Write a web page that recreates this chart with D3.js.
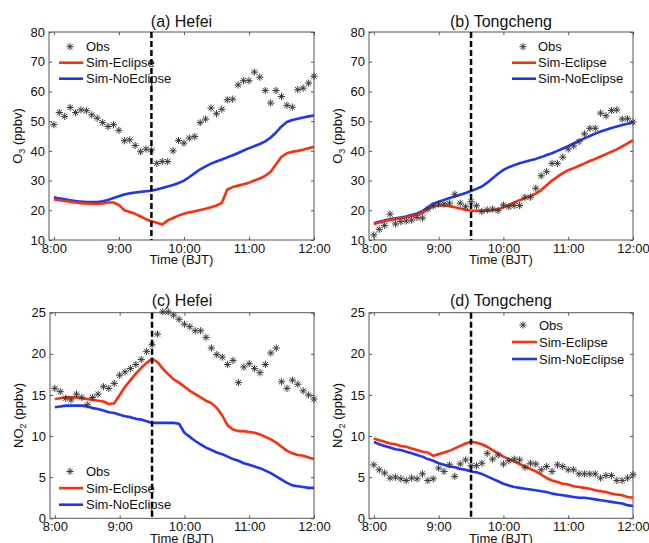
<!DOCTYPE html>
<html><head><meta charset="utf-8">
<script src="https://cdn.jsdelivr.net/npm/d3@7"></script>
<style>
body{margin:0;background:#fff;}
text{font-family:Arial,"Liberation Sans",sans-serif;fill:#111;}
</style></head>
<body><svg id="c" width="649" height="543"></svg>
<script>
// minutes after 8:00
const times = [0,5,10,15,20,25,30,35,40,45,50,55,60,65,70,75,80,85,90,95,100,105,110,115,120,125,130,135,140,145,150,155,160,165,170,175,180,185,190,195,200,205,210,215,220,225,230,235,240];
const xTickLabels = ["8:00","9:00","10:00","11:00","12:00"];
const eclipseMinute = 90; // 9:30

// (a) Hefei O3
const hefeiO3Obs = [48.8,52.9,51.6,54.6,52.9,53.8,53.5,52.1,51.0,49.5,48.2,48.8,46.9,43.4,43.7,41.8,39.7,40.6,40.3,35.8,36.4,36.4,40.0,43.5,42.6,44.3,44.8,49.5,50.7,54.4,52.5,54.0,57.2,57.4,62.2,63.6,63.6,66.5,64.8,60.3,56.1,60.3,58.3,55.3,54.7,60.6,61.1,62.8,65.1];
const hefeiO3Ecl = [23.7,23.4,23.1,22.9,22.6,22.4,22.3,22.2,22.2,22.3,22.6,22.6,21.8,20.0,19.4,18.8,17.9,17.0,16.3,15.8,15.2,16.6,17.4,18.2,18.8,19.3,19.7,20.1,20.5,21.0,21.6,22.5,27.0,27.8,28.3,28.8,29.3,30.0,30.7,31.6,33.0,35.5,38.0,39.2,39.7,40.0,40.4,40.9,41.4];
const hefeiO3NoEcl = [24.4,24.0,23.7,23.4,23.1,22.9,22.8,22.8,22.8,23.0,23.5,24.1,24.7,25.3,25.7,26.0,26.2,26.4,26.6,27.0,27.5,28.0,28.5,29.2,30.0,31.2,32.5,33.8,34.8,35.7,36.4,37.1,37.8,38.5,39.3,40.1,40.9,41.6,42.3,43.2,44.5,46.2,48.2,49.7,50.4,50.8,51.2,51.6,51.9];

// (b) Tongcheng O3
const tongO3Obs = [11.7,13.6,14.9,18.7,15.4,16.2,16.4,16.7,17.6,17.4,20.4,21.5,22.1,22.1,22.4,25.4,22.4,21.2,22.9,21.5,19.6,20.1,20.4,19.9,21.8,21.2,21.6,21.6,24.4,24.4,27.4,31.6,33.0,35.8,35.8,37.9,40.6,41.7,43.1,45.7,47.6,47.6,52.7,51.8,53.6,53.8,50.7,50.8,49.7];
const tongO3Ecl = [15.4,15.9,16.3,16.7,17.0,17.3,17.6,18.0,18.5,19.1,20.5,21.3,21.6,21.6,21.4,21.0,20.6,20.2,19.9,19.8,19.8,19.9,20.0,20.3,21.0,21.8,22.6,23.4,24.1,24.8,25.6,26.8,28.4,30.0,31.3,32.5,33.5,34.2,35.0,35.8,36.6,37.3,38.1,38.9,39.7,40.5,41.5,42.5,43.6];
const tongO3NoEcl = [15.6,16.1,16.6,17.0,17.3,17.6,17.9,18.4,18.9,19.7,21.0,22.2,22.9,23.5,24.1,24.6,25.2,25.8,26.5,27.2,28.0,29.3,30.8,32.3,33.6,34.5,35.2,35.8,36.3,36.8,37.3,37.9,38.6,39.2,40.0,40.8,41.6,42.5,43.4,44.2,45.0,45.8,46.5,47.1,47.7,48.2,48.7,49.1,49.6];

// (c) Hefei NO2
const hefeiNO2Obs = [15.8,15.4,14.6,14.4,15.1,14.7,13.8,14.7,15.1,16.0,15.8,16.4,17.4,17.8,18.2,18.7,19.3,20.3,21.1,22.4,25.1,25.1,24.7,24.2,23.6,23.3,22.8,22.8,22.0,20.7,19.9,19.6,18.7,19.2,16.5,18.4,18.8,18.2,17.7,18.7,20.1,20.7,16.6,15.8,16.8,16.3,15.5,15.0,14.5];
const hefeiNO2Ecl = [14.5,14.6,14.7,14.7,14.7,14.6,14.5,14.4,14.3,14.2,13.9,14.0,15.0,16.0,16.8,17.6,18.3,18.9,19.4,19.0,18.2,17.5,16.9,16.5,16.0,15.5,15.1,14.7,14.3,14.0,13.4,12.5,11.3,10.8,10.6,10.6,10.5,10.4,10.2,9.9,9.6,9.2,8.7,8.2,7.9,7.7,7.6,7.4,7.2];
const hefeiNO2NoEcl = [13.5,13.6,13.7,13.7,13.7,13.7,13.6,13.4,13.3,13.1,12.9,12.8,12.6,12.4,12.3,12.1,12.0,11.8,11.6,11.6,11.6,11.6,11.6,11.5,10.4,9.9,9.4,9.0,8.6,8.3,8.0,7.8,7.5,7.2,7.0,6.7,6.5,6.3,6.1,5.8,5.5,5.1,4.7,4.3,4.0,3.9,3.8,3.7,3.7];

// (d) Tongcheng NO2
const tongNO2Obs = [6.5,5.9,5.5,4.9,5.0,4.8,4.6,4.9,4.8,5.4,4.6,4.8,6.1,5.7,6.5,5.1,6.6,7.1,6.4,6.4,6.7,7.9,7.2,7.7,6.6,7.0,7.2,7.1,6.2,6.7,6.6,5.9,6.3,5.7,6.5,6.3,5.9,5.9,5.4,5.4,5.4,5.4,4.9,5.2,5.2,4.6,4.6,4.9,5.3];
const tongNO2Ecl = [9.7,9.5,9.3,9.1,9.0,8.8,8.7,8.5,8.3,8.1,8.0,7.6,7.8,8.0,8.2,8.5,8.8,9.1,9.3,9.2,9.0,8.7,8.3,7.9,7.5,7.2,6.9,6.6,6.3,6.0,5.7,5.3,4.9,4.6,4.4,4.2,4.1,3.9,3.8,3.7,3.6,3.4,3.3,3.2,3.0,2.9,2.8,2.6,2.5];
const tongNO2NoEcl = [9.3,9.0,8.8,8.6,8.4,8.3,8.1,7.9,7.7,7.5,7.2,7.0,6.7,6.5,6.3,6.2,6.0,5.9,5.7,5.6,5.4,5.1,4.8,4.5,4.2,4.0,3.8,3.7,3.6,3.5,3.4,3.3,3.2,3.0,2.9,2.8,2.7,2.6,2.5,2.5,2.4,2.3,2.2,2.1,2.0,1.9,1.8,1.6,1.5];

const o3Ticks = [10,20,30,40,50,60,70,80];
const no2Ticks = [0,5,10,15,20,25];
const legendLabels = ["Obs","Sim-Eclipse","Sim-NoEclipse"];

const RED = "#ff2e0a", BLUE = "#1f35f5", AXC = "#555";

const panels = [
  {title:"(a) Hefei", spec:"O", obs:hefeiO3Obs, ecl:hefeiO3Ecl, no:hefeiO3NoEcl, ydom:[10,80], ticks:o3Ticks,
   box:[49,32,314,240], xlabY:264, titleY:27, leg:{sx:70, lx0:59, lx1:83, tx:86, y0:46.7, dy:16}},
  {title:"(b) Tongcheng", spec:"O", obs:tongO3Obs, ecl:tongO3Ecl, no:tongO3NoEcl, ydom:[10,80], ticks:o3Ticks,
   box:[369,32,633,240], xlabY:264, titleY:27, leg:{sx:523, lx0:512, lx1:536, tx:538, y0:46.7, dy:16}},
  {title:"(c) Hefei", spec:"N", obs:hefeiNO2Obs, ecl:hefeiNO2Ecl, no:hefeiNO2NoEcl, ydom:[0,25], ticks:no2Ticks,
   box:[50,312.7,314,518.3], xlabY:542.5, titleY:306, leg:{sx:70, lx0:59, lx1:83, tx:86, y0:471.5, dy:16.6}},
  {title:"(d) Tongcheng", spec:"N", obs:tongNO2Obs, ecl:tongNO2Ecl, no:tongNO2NoEcl, ydom:[0,25], ticks:no2Ticks,
   box:[369,312.7,633,518.3], xlabY:542.5, titleY:306, leg:{sx:523, lx0:512, lx1:537, tx:539, y0:325, dy:17}}
];

const svg = d3.select("#c");

function star(g, x, y, r){
  const p = d3.path();
  p.moveTo(x-r,y); p.lineTo(x+r,y);
  p.moveTo(x,y-r); p.lineTo(x,y+r);
  const d = r*0.72;
  p.moveTo(x-d,y-d); p.lineTo(x+d,y+d);
  p.moveTo(x-d,y+d); p.lineTo(x+d,y-d);
  g.append("path").attr("d",p.toString()).attr("stroke","#3a3a3a").attr("stroke-width",1).attr("fill","none");
}

panels.forEach(P=>{
  const [L,T,R,B] = P.box;
  const x = d3.scaleLinear().domain([-4.5,240]).range([L,R]);
  const y = d3.scaleLinear().domain(P.ydom).range([B,T]);
  const g = svg.append("g");

  // axes with inward ticks
  const tickVals = [0,60,120,180,240];
  const ax = d3.axisBottom(x).tickValues(tickVals).tickSizeInner(-3).tickSizeOuter(0).tickPadding(3)
     .tickFormat((d,i)=>xTickLabels[i]);
  const gx = g.append("g").attr("transform",`translate(0,${B})`).call(ax);
  const gxt = g.append("g").attr("transform",`translate(0,${T})`).call(d3.axisTop(x).tickValues(tickVals).tickSizeInner(-3).tickSizeOuter(0).tickFormat(""));
  const ay = d3.axisLeft(y).tickValues(P.ticks).tickSizeInner(-3).tickSizeOuter(0).tickPadding(4);
  const gy = g.append("g").attr("transform",`translate(${L},0)`).call(ay);
  const gyr = g.append("g").attr("transform",`translate(${R},0)`).call(d3.axisRight(y).tickValues(P.ticks).tickSizeInner(-3).tickSizeOuter(0).tickFormat(""));
  [gx,gxt,gy,gyr].forEach(a=>{
    a.select(".domain").remove();
    a.selectAll(".tick line").attr("stroke",AXC);
    a.selectAll("text").attr("font-size",13).attr("fill","#111").attr("font-family","Arial, 'Liberation Sans', sans-serif");
  });
  gx.selectAll("text").attr("dy","0.75em");
  g.append("rect").attr("x",L).attr("y",T).attr("width",R-L).attr("height",B-T)
    .attr("fill","none").attr("stroke",AXC).attr("stroke-width",1);

  // lines
  const line = d3.line().x((d,i)=>x(times[i])).y(d=>y(d));
  g.append("path").datum(P.no).attr("d",line).attr("fill","none").attr("stroke",BLUE).attr("stroke-width",2.6).attr("stroke-linejoin","round");
  g.append("path").datum(P.ecl).attr("d",line).attr("fill","none").attr("stroke",RED).attr("stroke-width",2.6).attr("stroke-linejoin","round");

  // obs
  P.obs.forEach((v,i)=>star(g, x(times[i]), y(v), 3.6));

  // eclipse max dashed line
  g.append("line").attr("x1",x(eclipseMinute)).attr("x2",x(eclipseMinute)).attr("y1",T).attr("y2",B)
    .attr("stroke","#000").attr("stroke-width",2.5).attr("stroke-dasharray","6,3");

  // legend
  const lg = P.leg;
  star(g, lg.sx, lg.y0, 3.6);
  g.append("line").attr("x1",lg.lx0).attr("x2",lg.lx1).attr("y1",lg.y0+lg.dy).attr("y2",lg.y0+lg.dy).attr("stroke",RED).attr("stroke-width",2.6);
  g.append("line").attr("x1",lg.lx0).attr("x2",lg.lx1).attr("y1",lg.y0+2*lg.dy).attr("y2",lg.y0+2*lg.dy).attr("stroke",BLUE).attr("stroke-width",2.6);
  legendLabels.forEach((t,i)=>{
    g.append("text").attr("x",lg.tx).attr("y",lg.y0+i*lg.dy).attr("dy","0.36em").attr("font-size",13).text(t);
  });

  // title
  g.append("text").attr("x",(L+R)/2).attr("y",P.titleY).attr("text-anchor","middle").attr("font-size",16).text(P.title);
  // x label
  g.append("text").attr("x",(L+R)/2).attr("y",P.xlabY).attr("text-anchor","middle").attr("font-size",13).text("Time (BJT)");
  // y label
  const yl = g.append("text").attr("transform",`translate(${L-27},${(T+B)/2}) rotate(-90)`).attr("text-anchor","middle").attr("font-size",13);
  if(P.spec==="O"){
    yl.append("tspan").text("O");
    yl.append("tspan").attr("font-size",9).attr("dy",3).text("3");
    yl.append("tspan").attr("dy",-3).text(" (ppbv)");
  } else {
    yl.append("tspan").text("NO");
    yl.append("tspan").attr("font-size",9).attr("dy",3).text("2");
    yl.append("tspan").attr("dy",-3).text(" (ppbv)");
  }
});
</script></body></html>
